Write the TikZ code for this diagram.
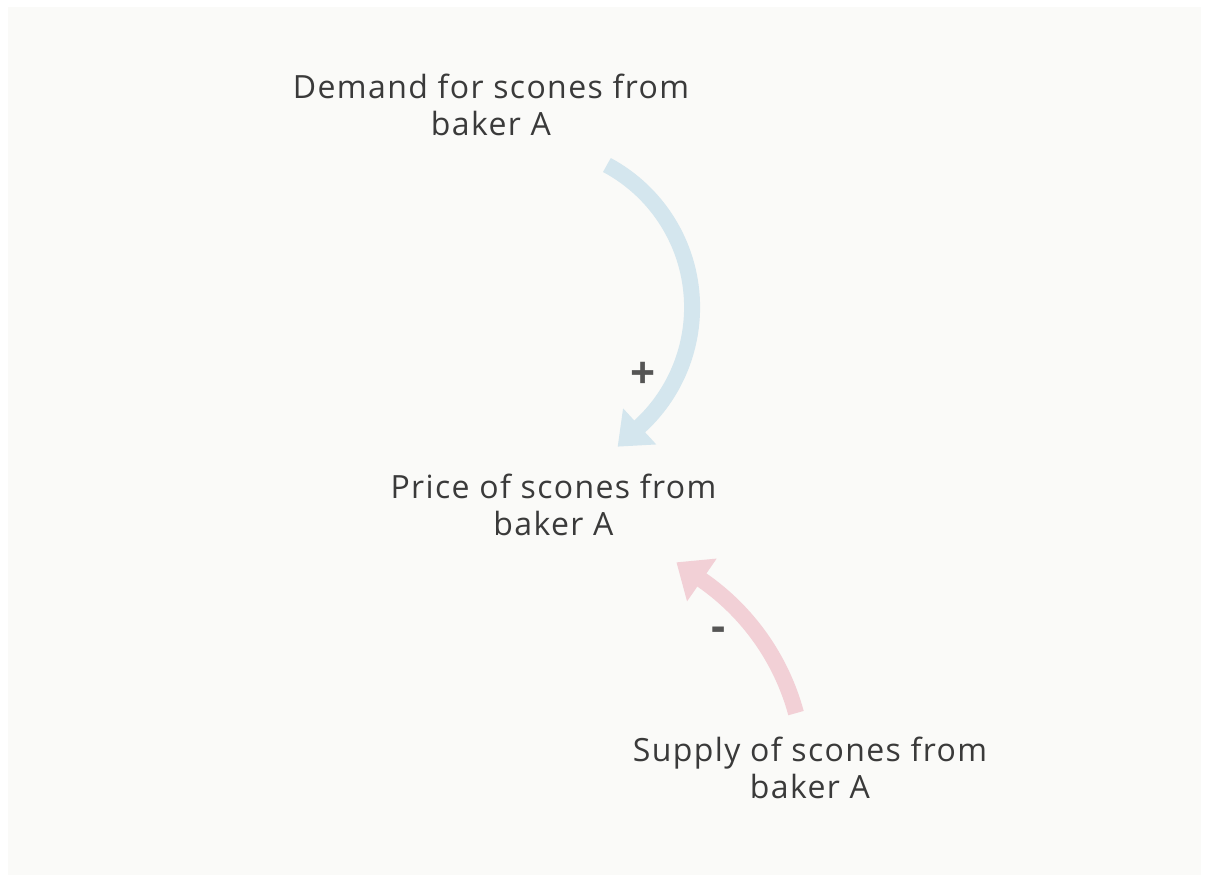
\documentclass[tikz,border=0pt]{standalone}
\usepackage{fontspec}
\setmainfont{Open Sans}[LetterSpace=4.3]
\usetikzlibrary{arrows.meta}
\definecolor{panel}{RGB}{250,250,248}
\definecolor{labeltext}{RGB}{58,58,58}
\definecolor{signtext}{RGB}{85,85,85}
\definecolor{posarrow}{RGB}{212,230,238}
\definecolor{negarrow}{RGB}{242,208,214}
\begin{document}
\begin{tikzpicture}[x=1pt,y=1pt,
  var/.style={align=center, text=labeltext, inner sep=0pt,
    font=\fontsize{32}{37}\selectfont},
  signlabel/.style={text=signtext, inner sep=0pt, font=\fontsize{44}{48}\selectfont\bfseries},
  link/.style={line width=16pt},
  poslink/.style={link, draw=posarrow, -{Triangle[length=30pt,width=47pt]}},
  neglink/.style={link, draw=negarrow, -{Triangle[length=31pt,width=50pt]}}]
  \useasboundingbox (0,0) rectangle (1209,-882);
  \fill[white] (0,0) rectangle (1209,-882);
  \fill[panel] (8,-7) rectangle (1201,-875);

  % variables
  \node[var] (demand) at (491,-105) {Demand for scones from\\baker A};
  \node[var] (price) at (553.5,-505) {Price of scones from\\baker A};
  \node[var] (supply) at (810,-767.5) {Supply of scones from\\baker A};

  % causal links
  \coordinate (dstart) at (606.9,-165);
  \coordinate (dtip) at (617.6,-446.7);
  \draw[poslink] (dstart) arc[start angle=61.8, end angle=-47.5, radius=161.5] -- (dtip);
  \node[signlabel] (plus) at (643,-375) {+};

  \coordinate (sstart) at (796,-713.1);
  \coordinate (stip) at (676.4,-562.3);
  \draw[neglink] (sstart) arc[start angle=15.2, end angle=55.3, radius=237.7] -- (stip);
  \node[signlabel] (minus) at (719,-634) {-};
\end{tikzpicture}
\end{document}
